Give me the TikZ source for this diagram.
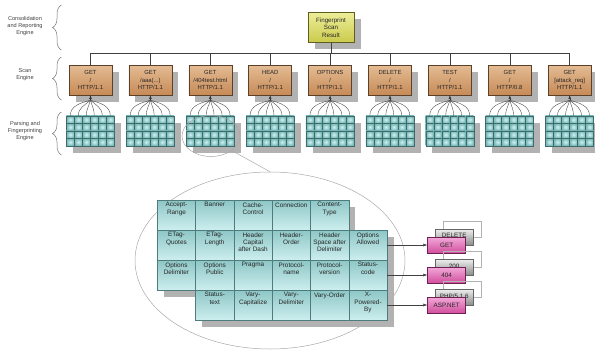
\documentclass[tikz,border=0pt]{standalone}
\usepackage{fontspec}
\setmainfont{Liberation Sans}
\usetikzlibrary{arrows.meta, positioning, shapes.geometric, shadows, decorations.pathreplacing}

\definecolor{scantop}{HTML}{E4BC94}
\definecolor{scanbot}{HTML}{C68A56}
\definecolor{scanline}{HTML}{5C4128}
\definecolor{restop}{HTML}{EDED98}
\definecolor{resbot}{HTML}{CACA4C}
\definecolor{resline}{HTML}{5E5E22}
\definecolor{gridin}{HTML}{D2F2F2}
\definecolor{gridout}{HTML}{74B6B6}
\definecolor{gridline}{HTML}{3E6A6A}
\definecolor{celltop}{HTML}{8EC6C6}
\definecolor{cellbot}{HTML}{CDEEEE}
\definecolor{cellline}{HTML}{4E7C7C}
\definecolor{shadowgrey}{HTML}{B2B2B2}
\definecolor{magtop}{HTML}{F2A8D8}
\definecolor{magbot}{HTML}{D2509E}
\definecolor{magline}{HTML}{6E2050}
\definecolor{ringgrey}{HTML}{A8A8A8}

\begin{document}
\begin{tikzpicture}[
        x=1pt, y=-1pt,
        node distance=59.9pt,
        every node/.style={inner sep=0pt, align=center, text=black!85},
        dropgrey/.style={drop shadow={shadow xshift=6.5pt, shadow yshift=-6.5pt, fill=shadowgrey, opacity=1}},
        layertext/.style={font=\fontsize{5.6}{7}\selectfont, text=black!75},
        layerbrace/.style={draw=black!55, line width=0.5pt, decorate, decoration={brace, amplitude=9pt}},
        resultbox/.style={dropgrey, draw=resline, line width=0.5pt, top color=restop, bottom color=resbot, minimum width=46pt, minimum height=30pt, font=\fontsize{6.2}{7.5}\selectfont},
        scanbox/.style={dropgrey, draw=scanline, line width=0.5pt, top color=scantop, bottom color=scanbot, minimum width=43pt, minimum height=30pt, font=\fontsize{5.9}{7.5}\selectfont},
        gridbase/.style={dropgrey, minimum width=48pt, minimum height=30pt},
        gcell/.style={draw=gridline, line width=0.35pt, inner color=gridin, outer color=gridout, minimum width=8pt, minimum height=7.5pt},
        tcell/.style={dropgrey, draw=cellline, line width=0.5pt, top color=celltop, bottom color=cellbot, minimum width=38.3pt, minimum height=30pt, font=\fontsize{6.4}{7.4}\selectfont},
        bus/.style={draw=black!75, line width=0.5pt},
        fan/.style={draw=black!70, line width=0.4pt},
        fanarrow/.style={-{Latex[length=3.5pt, width=2.6pt]}, draw=black!80, line width=0.4pt},
        zoomring/.style={ellipse, draw=ringgrey, line width=0.5pt},
        outarrow/.style={-{Latex[length=4pt, width=3pt]}, draw=black!75, line width=0.5pt},
        answer/.style={draw=magline, line width=0.5pt, top color=magtop, bottom color=magbot, minimum width=38pt, minimum height=15.5pt, font=\fontsize{6.3}{7}\selectfont},
        second/.style={draw=black!60, line width=0.5pt, top color=black!8, bottom color=black!45, minimum width=38pt, minimum height=15.5pt, text depth=3pt, font=\fontsize{6.3}{7}\selectfont},
        third/.style={draw=black!30, line width=0.4pt, minimum width=38pt, minimum height=15.5pt}
    ]
    \useasboundingbox (0,0) rectangle (595,349);

    % engine layers
    \node[layertext] (L1) at (25,26) {Consolidation\\and Reporting\\Engine};
    \node[layertext] (L2) at (25,75) {Scan\\Engine};
    \node[layertext] (L3) at (25,131) {Parsing and\\Fingerprinting\\Engine};
    \draw[layerbrace] (61.5,50) -- (61.5,5);
    \draw[layerbrace] (61.5,100) -- (61.5,57);
    \draw[layerbrace] (61.5,155) -- (61.5,112);

    \node[resultbox] (R) at (331,27.7) {Fingerprint\\Scan\\Result};

    \node[scanbox] (S1) at (90.5,80) {GET\\/\\HTTP/1.1};
    \node[scanbox, right of=S1] (S2) {GET\\/aaa(...)\\HTTP/1.1};
    \node[scanbox, right of=S2] (S3) {GET\\/404test.html\\HTTP/1.1};
    \node[scanbox, right of=S3] (S4) {HEAD\\/\\HTTP/1.1};
    \node[scanbox, right of=S4] (S5) {OPTIONS\\/\\HTTP/1.1};
    \node[scanbox, right of=S5] (S6) {DELETE\\/\\HTTP/1.1};
    \node[scanbox, right of=S6] (S7) {TEST\\/\\HTTP/1.1};
    \node[scanbox, right of=S7] (S8) {GET\\/\\HTTP/0.8};
    \node[scanbox, right of=S8] (S9) {GET\\{[attack\_req]}\\HTTP/1.1};

    % bus to the result
    \coordinate (B) at (0,53.3);
    \draw[bus] (R.south) -- (R.south |- B);
    \draw[bus] (S1.north |- B) -- (S9.north |- B);
    \foreach \i in {1,...,9}
        \draw[bus] (S\i.north) -- (S\i.north |- B);

    % parsing grids
    \foreach \i in {1,...,9}{
        \node[gridbase, node distance=51pt, below of=S\i] (G\i) {};
        \foreach \r in {1,...,4}
            \foreach \c in {1,...,6}
                \node[gcell] (G\i-\r-\c) at ([shift={(8*\c-4, 7.5*\r-3.75)}]G\i.north west) {};
        \coordinate (A\i) at ([yshift=-5pt]S\i.south);
        \foreach \c/\a in {1/195, 2/220, 3/255, 4/285, 5/320, 6/345}
            \draw[fan] (G\i-1-\c.north) to[out=90, in=\a] (A\i);
        \draw[fanarrow] (A\i) -- (S\i.south);
    }

    % zoom
    \node[zoomring, minimum width=58pt, minimum height=41pt] (Z) at (211,136) {};
    \node[zoomring, minimum width=270pt, minimum height=177pt] (ZZ) at (270,260.5) {};
    \draw[draw=ringgrey, line width=0.5pt] (Z.-35) -- (ZZ.north);

    \foreach \r/\c/\t in {0/0/{Accept-\\Range}, 0/1/Banner, 0/2/{Cache-\\Control}, 0/3/Connection, 0/4/{Content-\\Type},
        1/0/{ETag-\\Quotes}, 1/1/{ETag-\\Length}, 1/2/{Header\\Capital\\after Dash}, 1/3/{Header-\\Order}, 1/4/{Header\\Space after\\Delimiter}, 1/5/{Options\\Allowed},
        2/0/{Options\\Delimiter}, 2/1/{Options\\Public}, 2/2/Pragma, 2/3/{Protocol-\\name}, 2/4/{Protocol-\\version}, 2/5/{Status-\\code},
        3/1/{Status-\\text}, 3/2/{Vary-\\Capitalize}, 3/3/{Vary-\\Delimiter}, 3/4/Vary-Order, 3/5/{X-\\Powered-\\By}}
        \node[tcell] (T\r\c) at (176.45+38.3*\c, 215+30*\r) {\parbox[t][25pt][t]{37pt}{\centering\t}};

    % matched signatures
    \foreach \k/\y/\back/\front in {1/245/DELETE/GET, 2/275/200/404, 3/305/{PHP/5.1.6}/ASP.NET}{
        \node[third] (O\k) at (461.7,\y-15.7) {};
        \node[second] (P\k) at (454.2,\y-7.7) {\back};
        \node[answer] (M\k) at (446.7,\y) {\front};
    }
    \draw[outarrow] (T15) -- (M1);
    \draw[outarrow] (T25) -- (M2);
    \draw[outarrow] (T35) -- (M3);
\end{tikzpicture}
\end{document}
